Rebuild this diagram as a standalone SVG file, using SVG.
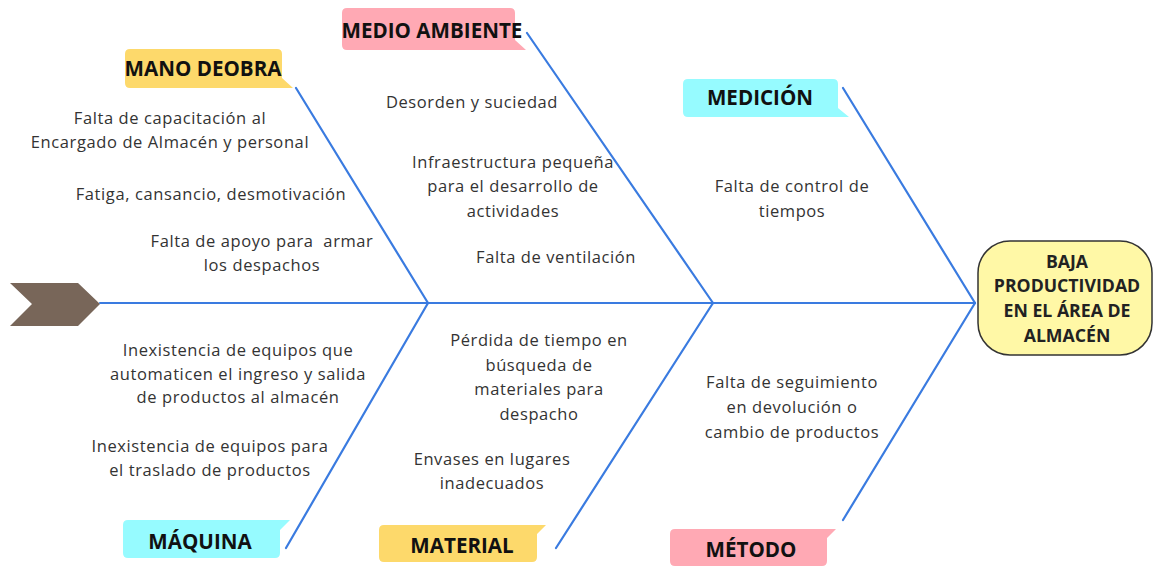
<svg xmlns="http://www.w3.org/2000/svg" width="1154" height="569" viewBox="0 0 1154 569">
<style>
.t{font-family:"Open Sans","Liberation Sans",sans-serif;font-size:16.5px;letter-spacing:0.6px;fill:#333;text-anchor:middle}
.lb{font-family:"Open Sans","Liberation Sans",sans-serif;font-size:20.6px;font-weight:bold;fill:#111;text-anchor:middle}
.hd{font-family:"Open Sans","Liberation Sans",sans-serif;font-size:17.7px;font-weight:bold;fill:#222;text-anchor:middle}
.bone{stroke:#3a7be0;stroke-width:2.2;fill:none;stroke-linecap:round}
.y{fill:#fdd96b}.p{fill:#ffa9b4}.c{fill:#96fbff}
</style>
<rect width="1154" height="569" fill="#fff"/>
<g id="connectors">
<line class="bone" x1="100" y1="303" x2="975" y2="303"/>
<line class="bone" x1="296" y1="88" x2="428" y2="303"/>
<line class="bone" x1="286" y1="548" x2="428" y2="303"/>
<line class="bone" x1="527" y1="33" x2="713" y2="303"/>
<line class="bone" x1="556" y1="548" x2="713" y2="303"/>
<line class="bone" x1="843" y1="88" x2="975" y2="303"/>
<line class="bone" x1="843" y1="520" x2="975" y2="303"/>
</g>
<g id="tail">
<polygon points="10,283 78,283 100,304 78,326 10,326 32,304" fill="#786659"/>
</g>
<g id="head">
<rect x="978" y="241" width="174" height="114" rx="32" fill="#fff8a6" stroke="#333" stroke-width="1.5"/>
<text class="hd" x="1067" y="268">BAJA</text>
<text class="hd" x="1067" y="292">PRODUCTIVIDAD</text>
<text class="hd" x="1067" y="317">EN EL ÁREA DE</text>
<text class="hd" x="1067" y="342">ALMACÉN</text>
</g>
<g id="mano-obra">
<path class="y" d="M130,49 H277 Q282,49 282,54 V78 L293,88 H130 Q125,88 125,83 V54 Q125,49 130,49 Z"/>
<text class="lb" x="203" y="76">MANO DEOBRA</text>
</g>
<g id="medio-ambiente">
<path class="p" d="M347,8 H510 Q515,8 515,13 V40 L526,50 H347 Q342,50 342,45 V13 Q342,8 347,8 Z"/>
<text class="lb" x="432" y="38">MEDIO AMBIENTE</text>
</g>
<g id="medicion">
<path class="c" d="M688,79 H833 Q838,79 838,84 V108 L849,117 H688 Q683,117 683,112 V84 Q683,79 688,79 Z"/>
<text class="lb" x="760" y="105">MEDICIÓN</text>
</g>
<g id="maquina">
<path class="c" d="M128,558 H275 Q280,558 280,553 V530 L290,520 H128 Q123,520 123,525 V553 Q123,558 128,558 Z"/>
<text class="lb" x="200" y="549">MÁQUINA</text>
</g>
<g id="material">
<path class="y" d="M384,562 H532 Q537,562 537,557 V534 L546,525 H384 Q379,525 379,530 V557 Q379,562 384,562 Z"/>
<text class="lb" x="462" y="553">MATERIAL</text>
</g>
<g id="metodo">
<path class="p" d="M675,566 H822 Q827,566 827,561 V538 L836,529 H675 Q670,529 670,534 V561 Q670,566 675,566 Z"/>
<text class="lb" x="751" y="557">MÉTODO</text>
</g>
<g id="causes">
<text class="t" x="170" y="124">Falta de capacitación al</text>
<text class="t" x="170" y="148">Encargado de Almacén y personal</text>
<text class="t" x="211" y="200">Fatiga, cansancio, desmotivación</text>
<text class="t" x="262" y="247">Falta de apoyo para&#160; armar</text>
<text class="t" x="262" y="271">los despachos</text>
<text class="t" x="472" y="108">Desorden y suciedad</text>
<text class="t" x="513" y="168">Infraestructura pequeña</text>
<text class="t" x="513" y="192">para el desarrollo de</text>
<text class="t" x="513" y="217">actividades</text>
<text class="t" x="556" y="263">Falta de ventilación</text>
<text class="t" x="792" y="192">Falta de control de</text>
<text class="t" x="792" y="217">tiempos</text>
<text class="t" x="238" y="356">Inexistencia de equipos que</text>
<text class="t" x="238" y="380">automaticen el ingreso y salida</text>
<text class="t" x="238" y="403">de productos al almacén</text>
<text class="t" x="210" y="452">Inexistencia de equipos para</text>
<text class="t" x="210" y="476">el traslado de productos</text>
<text class="t" x="539" y="346">Pérdida de tiempo en</text>
<text class="t" x="539" y="371">búsqueda de</text>
<text class="t" x="539" y="395">materiales para</text>
<text class="t" x="539" y="420">despacho</text>
<text class="t" x="492" y="465">Envases en lugares</text>
<text class="t" x="492" y="489">inadecuados</text>
<text class="t" x="792" y="388">Falta de seguimiento</text>
<text class="t" x="792" y="413">en devolución o</text>
<text class="t" x="792" y="438">cambio de productos</text>
</g>
</svg>
